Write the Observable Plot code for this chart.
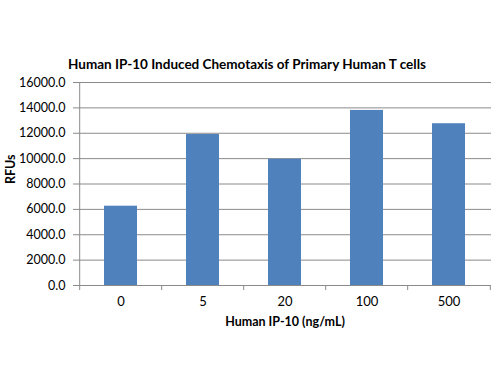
<!DOCTYPE html>
<html>
<head>
<meta charset="utf-8">
<script src="https://cdn.jsdelivr.net/npm/d3@7"></script>
<script src="https://cdn.jsdelivr.net/npm/@observablehq/plot@0.6"></script>
<style>
  html, body { margin: 0; padding: 0; background: #fff; }
  #chart { width: 500px; height: 375px; }
</style>
</head>
<body>
<div id="chart"></div>
<script>
const categories = ["0", "5", "20", "100", "500"];
const values = [6250, 11900, 9950, 13800, 12750];
const yTicks = [0, 2000, 4000, 6000, 8000, 10000, 12000, 14000, 16000];
const title = "Human IP-10 Induced Chemotaxis of Primary Human T cells";
const xTitle = "Human IP-10 (ng/mL)";
const yTitle = "RFUs";

const data = categories.map((c, i) => ({cat: c, val: values[i]}));

const W = 500, H = 375, mL = 78, mR = 9, mT = 82, mB = 90;
const step = (W - mL - mR) / categories.length;
const font = "Lato, 'Open Sans', sans-serif";

const chart = Plot.plot({
  width: W,
  height: H,
  marginLeft: mL,
  marginRight: mR,
  marginTop: mT,
  marginBottom: mB,
  style: {fontFamily: font, fontSize: "12px", color: "#000", background: "#fff", overflow: "visible"},
  x: {domain: categories, paddingInner: 0.6, paddingOuter: 0.3},
  y: {domain: [0, 16000]},
  marks: [
    Plot.gridY(yTicks, {stroke: "#8a8a8a", strokeOpacity: 1}),
    Plot.barY(data, {x: "cat", y: "val", fill: "#4F81BD"}),
    Plot.axisY(yTicks, {tickFormat: d => d.toFixed(1), tickSize: 5, tickPadding: 8, stroke: "#8a8a8a", label: null, fontSize: 12.5}),
    Plot.ruleX([categories[0]], {dx: -step / 2, stroke: "#8a8a8a"}),
    Plot.ruleY([0], {stroke: "#8a8a8a"}),
    Plot.ruleX(categories, {dx: -step / 2, y1: 0, y2: -400, stroke: "#8a8a8a"}),
    Plot.ruleX([categories[categories.length - 1]], {dx: step / 2, y1: 0, y2: -400, stroke: "#8a8a8a"}),
    Plot.axisX({tickSize: 0, tickPadding: 11, label: null, fontSize: 13}),
    Plot.text([title], {frameAnchor: "top", dx: -38, dy: -23, fontWeight: "bold", fontSize: 13.5, text: d => d}),
    Plot.text([xTitle], {frameAnchor: "bottom", dy: 40, fontWeight: "bold", fontSize: 12.5, text: d => d}),
    Plot.text([yTitle], {frameAnchor: "left", dx: -68, rotate: -90, fontWeight: "bold", fontSize: 12.5, text: d => d})
  ]
});
document.getElementById("chart").appendChild(chart);
</script>
</body>
</html>
